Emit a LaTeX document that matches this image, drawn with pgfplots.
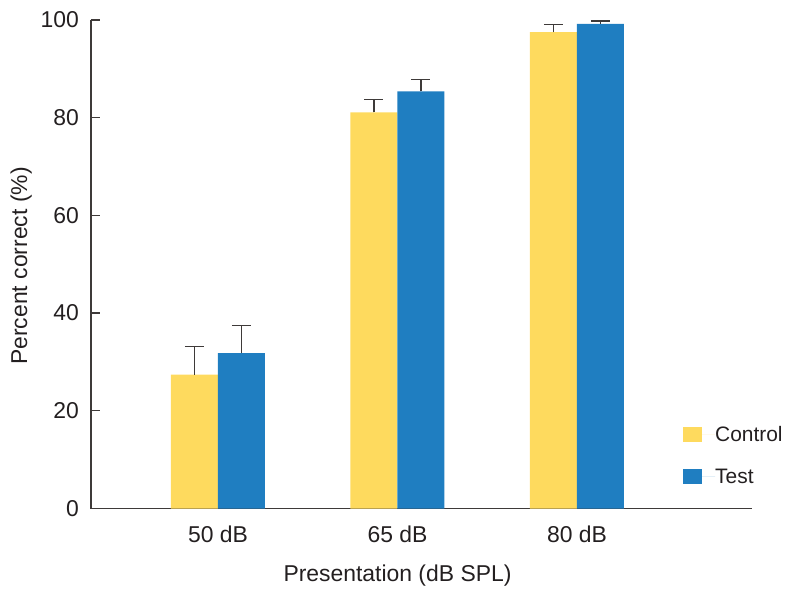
\documentclass[border=0pt]{standalone}
\usepackage{pgfplots}
\pgfplotsset{compat=1.18}
\usepackage{fontspec}
\setmainfont{Liberation Sans}
\definecolor{cyel}{RGB}{254,218,94}
\definecolor{cblu}{RGB}{31,126,193}
\definecolor{axc}{RGB}{62,58,57}
\definecolor{txt}{RGB}{35,31,32}
\begin{document}
\begin{tikzpicture}
\begin{axis}[
  at={(0,0)}, anchor=south west,
  scale only axis, width=661bp, height=488.5bp,
  xmin=-0.7075, xmax=2.975, ymin=0, ymax=100,
  axis lines=left,
  axis line style={axc, line width=1.3bp, -},
  ybar=0pt, bar width=47bp,
  xtick={0,1,2}, xticklabels={50 dB,65 dB,80 dB},
  ytick={0,20,40,60,80,100},
  major x tick style={draw=none},
  y tick style={axc, line width=1.3bp},
  tick align=inside, major tick length=9bp,
  /pgf/number format/assume math mode=true,
  tick label style={font=\fontsize{23}{27}\selectfont, text=txt},
  xticklabel style={anchor=base, inner sep=0pt, yshift=-34.2bp},
  yticklabel style={anchor=east, inner sep=0pt, xshift=-12bp},
  label style={font=\fontsize{23}{27}\selectfont, text=txt},
  xlabel={Presentation (dB SPL)},
  x label style={at={(axis description cs:0.4637,0)}, anchor=base, inner sep=0pt, yshift=-73.2bp},
  ylabel={Percent correct (\%)},
  y label style={at={(axis description cs:-0.0968,0.4964)}, anchor=base, inner sep=0pt, rotate=0},
  legend style={at={(axis description cs:0.8956,0.1085)}, anchor=west, draw=none, fill=none,
    inner sep=0pt, row sep=26bp, font=\fontsize{21}{25}\selectfont, text=txt,
    nodes={inner sep=0pt}},
  legend cell align=left,
  clip=false,
]
\addplot[fill=cyel, draw=none,
  legend image code/.code={\fill[cyel] (0bp,-7.5bp) rectangle (19bp,7.5bp); \path (19bp,0) -- (32bp,0);},
  error bars/.cd, y dir=plus, y explicit,
  error bar style={axc, line width=1.2bp},
  error mark options={rotate=90, mark size=9.5bp, axc, line width=1.2bp}]
  coordinates {(0,27.4) +- (0,5.7) (1,81.1) +- (0,2.7) (2,97.5) +- (0,1.5)};
\addplot[fill=cblu, draw=none,
  legend image code/.code={\fill[cblu] (0bp,-7.5bp) rectangle (19bp,7.5bp); \path (19bp,0) -- (32bp,0);},
  error bars/.cd, y dir=plus, y explicit,
  error bar style={axc, line width=1.2bp},
  error mark options={rotate=90, mark size=9.5bp, axc, line width=1.2bp}]
  coordinates {(0,31.8) +- (0,5.6) (1,85.4) +- (0,2.5) (2,99.2) +- (0,0.6)};
\legend{Control,Test}
\end{axis}
\pgfresetboundingbox
\path[use as bounding box] (-91bp,-82.5bp) rectangle (695bp,508.5bp);
\end{tikzpicture}
\end{document}
